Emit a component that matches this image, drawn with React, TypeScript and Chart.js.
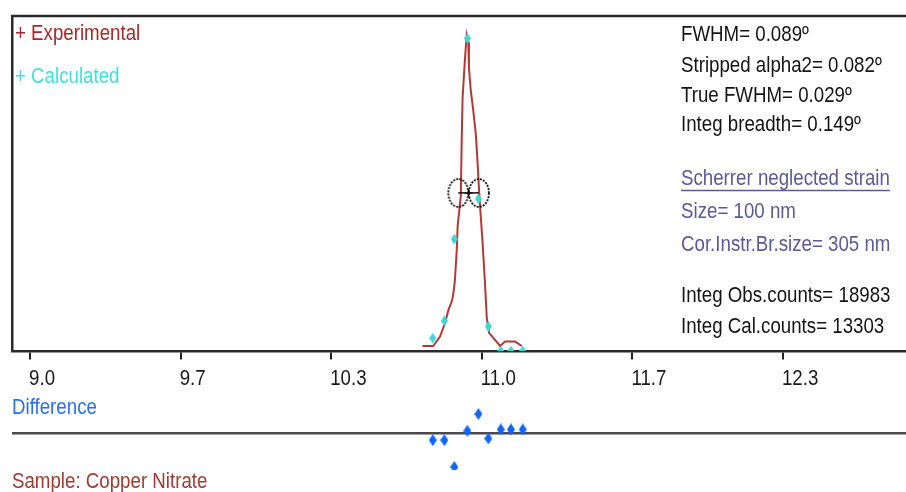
import React, { useEffect, useRef } from 'react';
import { Chart, registerables } from 'chart.js';

Chart.register(...registerables);

// ---------- data ----------
const EXP_X = [10.737, 10.785, 10.815, 10.837, 10.852, 10.869, 10.875, 10.881, 10.889, 10.893, 10.907, 10.911, 10.915, 10.926, 10.933, 10.940, 10.943, 10.951, 10.962, 10.973, 10.980, 10.989, 10.995, 11.004, 11.014, 11.022, 11.032, 11.051, 11.081, 11.103, 11.147, 11.177];
const EXP_Y = [15, 15, 43, 83, 122, 152, 176, 212, 301, 373, 463, 630, 758, 878, 943, 922, 845, 779, 719, 651, 576, 466, 406, 316, 203, 99, 54, 39, 15, 28, 28, 15];

const CALC_X = [10.783, 10.834, 10.878, 10.936, 10.985, 11.029, 11.084, 11.129, 11.181];
const CALC_Y = [38, 90, 334, 933, 454, 73, 0, 0, 0];
const DIFF_Y = [-21, -21, -101, 7, 57, -16, 11, 11, 11];

const FWHM_X = [10.896, 10.941, 10.987];
const HALF_MAX = 472;

const TICK_VALUES = [9.0, 9.6667, 10.3333, 11.0, 11.6667, 12.3333];
const TICK_LABELS = ['9.0', '9.7', '10.3', '11.0', '11.7', '12.3'];

const LEGEND_LABELS = ['+ Experimental', '+ Calculated'];
const STATS_LINES = ['FWHM= 0.089º', 'Stripped alpha2= 0.082º', 'True FWHM= 0.029º', 'Integ breadth= 0.149º'];
const SCHERRER_TITLE = 'Scherrer neglected strain';
const SCHERRER_LINES = ['Size= 100 nm', 'Cor.Instr.Br.size= 305 nm'];
const COUNT_LINES = ['Integ Obs.counts= 18983', 'Integ Cal.counts= 13303'];
const DIFF_LABEL = 'Difference';
const SAMPLE_LABEL = 'Sample: Copper Nitrate';

// ---------- styling helpers ----------
const FONT = '"Liberation Sans", Arial, sans-serif';
const SX = 0.85;

function narrowText(ctx: CanvasRenderingContext2D, text: string, x: number, y: number, color: string, size = 22) {
  ctx.save();
  ctx.font = `${size}px ${FONT}`;
  ctx.fillStyle = color;
  ctx.textAlign = 'left';
  ctx.textBaseline = 'alphabetic';
  ctx.translate(x, y);
  ctx.scale(SX, 1);
  ctx.fillText(text, 0, 0);
  const w = ctx.measureText(text).width * SX;
  ctx.restore();
  return w;
}

function makeDiamond(color: string, w: number, h: number) {
  const c = document.createElement('canvas');
  c.width = w;
  c.height = h;
  const g = c.getContext('2d')!;
  g.fillStyle = color;
  g.beginPath();
  g.moveTo(w / 2, 0);
  g.lineTo(w, h / 2);
  g.lineTo(w / 2, h);
  g.lineTo(0, h / 2);
  g.closePath();
  g.fill();
  return c;
}

function makeEllipse() {
  const c = document.createElement('canvas');
  c.width = 24;
  c.height = 32;
  const g = c.getContext('2d')!;
  g.strokeStyle = '#111';
  g.lineWidth = 1.8;
  g.setLineDash([2, 1.2]);
  g.beginPath();
  g.ellipse(12, 16, 10, 14, 0, 0, Math.PI * 2);
  g.stroke();
  return c;
}

const decorPlugin = {
  id: 'decor',
  afterDraw(chart: any) {
    const ctx: CanvasRenderingContext2D = chart.ctx;
    const area = chart.chartArea;
    // top frame line
    ctx.save();
    ctx.strokeStyle = '#2a2a2a';
    ctx.lineWidth = 2.5;
    ctx.beginPath();
    ctx.moveTo(area.left - 1, area.top);
    ctx.lineTo(chart.width, area.top);
    ctx.stroke();
    ctx.restore();

    // x tick labels
    const xs = chart.scales.x;
    TICK_VALUES.forEach((v, i) => {
      narrowText(ctx, TICK_LABELS[i], xs.getPixelForValue(v) - 1, 385, '#1a1a1a');
    });

    // legend
    narrowText(ctx, LEGEND_LABELS[0], 15, 40, '#a8282a');
    narrowText(ctx, LEGEND_LABELS[1], 15, 83, '#46dcdc');

    // stats block
    const tx = 681;
    [41, 71.5, 101.5, 131].forEach((y, i) => narrowText(ctx, STATS_LINES[i], tx, y, '#141414'));
    const w = narrowText(ctx, SCHERRER_TITLE, tx, 185, '#5a5a98');
    ctx.save();
    ctx.strokeStyle = '#5a5a98';
    ctx.lineWidth = 1.5;
    ctx.beginPath();
    ctx.moveTo(tx, 190.5);
    ctx.lineTo(tx + w, 190.5);
    ctx.stroke();
    ctx.restore();
    [218, 250.5].forEach((y, i) => narrowText(ctx, SCHERRER_LINES[i], tx, y, '#5a5a98'));
    [301.5, 333].forEach((y, i) => narrowText(ctx, COUNT_LINES[i], tx, y, '#141414'));

    narrowText(ctx, DIFF_LABEL, 12, 414, '#2a6ef2');
    narrowText(ctx, SAMPLE_LABEL, 12, 488, '#a33a30');
  },
};

export default function App() {
  const ref = useRef<HTMLCanvasElement>(null);

  useEffect(() => {
    const canvas = ref.current;
    if (!canvas) return;
    const cyan = makeDiamond('#3fd6d6', 7, 11);
    const blue = makeDiamond('#0f66ff', 8, 12);
    const ell = makeEllipse();

    const chart = new Chart(canvas, {
      type: 'scatter',
      data: {
        datasets: [
          {
            label: 'FWHM',
            data: FWHM_X.map((x) => ({ x, y: HALF_MAX })),
            yAxisID: 'y',
            showLine: true,
            borderColor: '#111',
            borderWidth: 1.5,
            pointStyle: [ell, 'cross', ell] as any,
            pointRadius: [10, 4, 10],
            pointBorderColor: '#111',
            pointBorderWidth: 1.5,
            pointBackgroundColor: 'rgba(0,0,0,0)',
          },
          {
            label: 'Difference',
            data: CALC_X.map((x, i) => ({ x, y: DIFF_Y[i] })),
            yAxisID: 'yd',
            showLine: false,
            pointStyle: blue as any,
            pointRadius: 5,
          },
          {
            label: 'Calculated',
            data: CALC_X.map((x, i) => ({ x, y: CALC_Y[i] })),
            yAxisID: 'y',
            showLine: false,
            pointStyle: cyan as any,
            pointRadius: 5,
          },
          {
            label: 'Experimental',
            data: EXP_X.map((x, i) => ({ x, y: EXP_Y[i] })),
            yAxisID: 'y',
            showLine: true,
            borderColor: '#b43838',
            borderWidth: 2,
            pointRadius: 0,
            tension: 0,
          },
        ],
      },
      options: {
        responsive: false,
        animation: false,
        devicePixelRatio: 1,
        layout: { autoPadding: false, padding: { left: 12, top: 16, right: 0, bottom: 22 } },
        plugins: {
          legend: { display: false },
          tooltip: { enabled: false },
        },
        scales: {
          x: {
            type: 'linear',
            min: 8.92,
            max: 12.878,
            position: { y: 0 } as any,
            afterBuildTicks: (s: any) => {
              s.ticks = TICK_VALUES.map((v) => ({ value: v }));
            },
            ticks: { display: false },
            grid: { display: true, drawOnChartArea: false, drawTicks: true, tickLength: 7, color: '#222', lineWidth: 2 },
            border: { display: true, color: '#2a2a2a', width: 2.5 },
          },
          y: {
            type: 'linear',
            position: 'left',
            stack: 'panels',
            stackWeight: 335,
            weight: 1,
            min: 0,
            max: 1000,
            ticks: { display: false },
            grid: { display: false, drawTicks: false },
            border: { display: true, color: '#2a2a2a', width: 2.5 },
          },
          yd: {
            type: 'linear',
            position: 'left',
            stack: 'panels',
            stackWeight: 119,
            weight: 0,
            min: -110,
            max: 245,
            afterBuildTicks: (s: any) => {
              s.ticks = [{ value: 0 }];
            },
            ticks: { display: false },
            grid: {
              display: true,
              drawTicks: false,
              color: (c: any) => (c.tick && c.tick.value === 0 ? '#4a4a4a' : 'rgba(0,0,0,0)'),
              lineWidth: 2.5,
            },
            border: { display: false },
          },
        },
      } as any,
      plugins: [decorPlugin],
    });
    return () => chart.destroy();
  }, []);

  return (
    <div style={{ position: 'fixed', left: 0, top: 0, width: 906, height: 492, background: '#fff' }}>
      <canvas ref={ref} width={906} height={492} style={{ display: 'block', width: 906, height: 492 }} />
    </div>
  );
}
